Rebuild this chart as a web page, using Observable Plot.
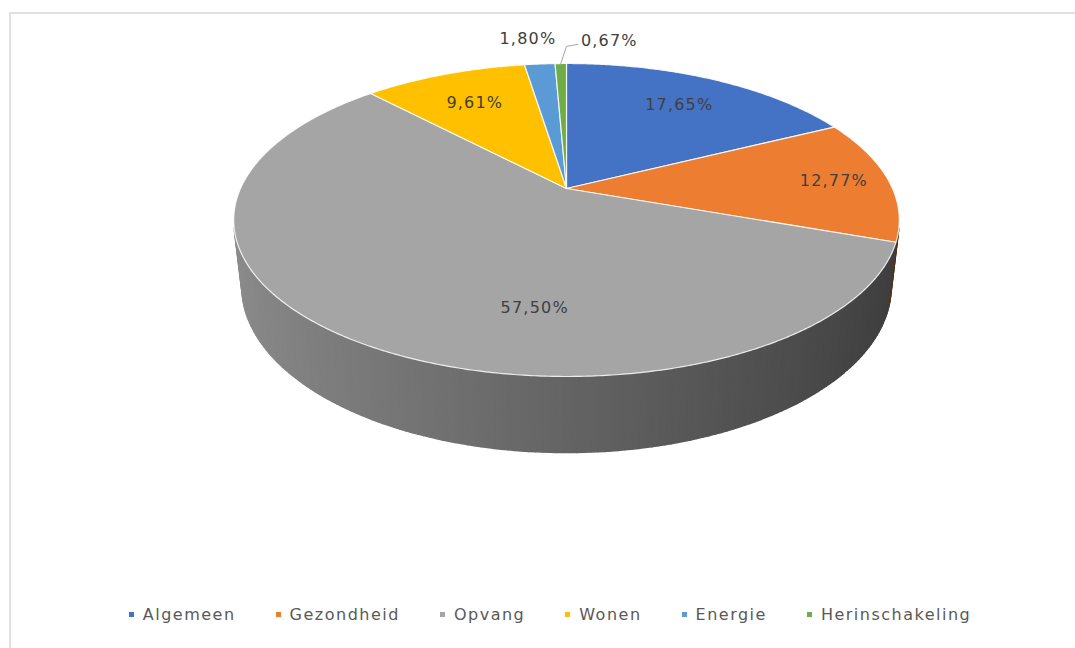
<!DOCTYPE html>
<html>
<head>
<meta charset="utf-8">
<script src="https://cdn.jsdelivr.net/npm/d3@7"></script>
<script src="https://cdn.jsdelivr.net/npm/@observablehq/plot@0.6"></script>
<style>
  html, body { margin: 0; padding: 0; background: #fff; overflow: hidden; width: 1075px; height: 648px; }
  #frame { position: absolute; left: 9px; top: 12px; width: 1100px; height: 700px; border: 2px solid #e0e0e0; box-sizing: border-box; }
  #chart { position: absolute; left: 0; top: 0; }
  #chart text { letter-spacing: 1.2px; }
  #legend { position: absolute; left: 0; top: 605px; width: 1100px; display: flex; justify-content: center; gap: 40px;
            font-family: "DejaVu Sans", sans-serif; font-size: 16px; color: #595959; letter-spacing: 1.5px; }
  #legend .item { display: flex; align-items: center; white-space: nowrap; }
  #legend .sw { width: 5px; height: 5px; margin-right: 9px; display: inline-block; }
</style>
</head>
<body>
<div id="frame"></div>
<div id="chart"></div>
<div id="legend"></div>
<script>
// ---- data ----
const categories = ["Algemeen", "Gezondheid", "Opvang", "Wonen", "Energie", "Herinschakeling"];
const shares = [17.65, 12.77, 57.50, 9.61, 1.80, 0.67];
const colors = ["#4472c4", "#ed7d31", "#a5a5a5", "#ffc000", "#5b9bd5", "#70ad47"];
const fmt = v => v.toFixed(2).replace(".", ",") + "%";

// ---- 3D pie geometry (perspective view of a disc) ----
const sinPhi = 0.4606, cosPhi = Math.sqrt(1 - sinPhi * sinPhi);
const DIST = 4.41;      // camera distance in radius units
const THICK = 0.232;    // disc thickness in radius units
function proj(aDeg, r, z) {
  const a = aDeg * Math.PI / 180;
  const x = r * Math.sin(a), y = r * Math.cos(a);
  const yc = y * sinPhi + z * cosPhi;
  const d = 1 + (y * cosPhi - z * sinPhi) / DIST;
  return [x / d, yc / d];
}

const total = d3.sum(shares);
let acc = 0;
const slices = categories.map((c, i) => {
  const a0 = acc / total * 360; acc += shares[i];
  const a1 = acc / total * 360;
  return {category: c, share: shares[i], a0, a1, mid: (a0 + a1) / 2, color: colors[i], label: fmt(shares[i])};
});

// top faces
const topRows = [];
slices.forEach((s, i) => {
  const pts = [[0, 0]];
  const n = Math.max(2, Math.ceil((s.a1 - s.a0) / 0.5));
  for (let k = 0; k <= n; k++) pts.push(proj(s.a0 + (s.a1 - s.a0) * k / n, 1, 0));
  pts.push([0, 0]);
  pts.forEach(([u, v]) => topRows.push({key: "t" + i, u, v, fill: s.color}));
});

// outer wall (visible part), shaded darker towards the right
const wallRows = [];
const visLimit = -1 / (DIST * cosPhi);
slices.forEach((s, i) => {
  const n = Math.max(1, Math.ceil((s.a1 - s.a0) / 1));
  for (let k = 0; k < n; k++) {
    const e0 = s.a0 + (s.a1 - s.a0) * k / n, e1 = s.a0 + (s.a1 - s.a0) * (k + 1) / n;
    const m = (e0 + e1) / 2;
    if (Math.cos(m * Math.PI / 180) >= visLimit) continue;
    const p = [proj(e0, 1, 0), proj(e1, 1, 0), proj(e1, 1, -THICK), proj(e0, 1, -THICK), proj(e0, 1, 0)];
    const um = Math.sin(m * Math.PI / 180);
    const f = 0.605 - 0.245 * um;
    const col = d3.interpolateRgb("#000000", s.color)(f);
    p.forEach(([u, v]) => wallRows.push({key: "w" + i + "_" + k, u, v, fill: col}));
  }
});

// labels
const labelTweak = {Opvang: {angle: 187, r: 0.69}, Gezondheid: {r: 0.83}, Algemeen: {r: 0.74}};
const inLabels = [], outLabels = [], leaderLabels = [], leaderRows = [];
slices.forEach((s, i) => {
  if (s.share >= 5) {
    const t = labelTweak[s.category] || {};
    const [u, v] = proj(t.angle ?? s.mid, t.r ?? 0.72, 0);
    inLabels.push({u, v, label: s.label});
  } else if (s.share >= 1) {
    const [u, v] = proj(s.mid, 1.25, 0);
    outLabels.push({u: u - 0.02, v, label: s.label});
  } else {
    const [u0, v0] = proj(s.mid, 1.0, 0);
    const [u1, v1] = proj(s.mid, 1.17, 0);
    const p1 = [u1 + 0.02, v1], p2 = [u1 + 0.055, v1 + 0.006];
    [[u0, v0], p1, p2].forEach(([u, v]) => leaderRows.push({key: "l" + i, u, v}));
    leaderLabels.push({u: p2[0], v: p2[1], label: s.label});
  }
});

// ---- plot ----
const W = 1075, H = 590, K = 326, CX = 566, CY = 188;
const font = "DejaVu Sans, sans-serif";
const chart = Plot.plot({
  width: W, height: H, margin: 0,
  x: {domain: [-CX / K, (W - CX) / K], range: [0, W], axis: null},
  y: {domain: [(CY - H) / K, CY / K], range: [H, 0], axis: null},
  color: {type: "identity"},
  marks: [
    Plot.line(wallRows, {x: "u", y: "v", z: "key", fill: "fill", stroke: "fill", strokeWidth: 1.5, curve: "linear"}),
    Plot.line(topRows, {x: "u", y: "v", z: "key", fill: "fill", stroke: "#ffffff", strokeWidth: 1.2, strokeOpacity: 0.85, strokeLinejoin: "round", curve: "linear"}),
    Plot.line(leaderRows, {x: "u", y: "v", z: "key", stroke: "#a6a6a6", strokeWidth: 1, curve: "linear"}),
    Plot.text(inLabels, {x: "u", y: "v", text: "label", fill: "#404040", fontSize: 16, fontFamily: font}),
    Plot.text(outLabels, {x: "u", y: "v", text: "label", fill: "#404040", fontSize: 16, fontFamily: font}),
    Plot.text(leaderLabels, {x: "u", y: "v", text: "label", fill: "#404040", fontSize: 16, fontFamily: font, textAnchor: "start", dx: 3, dy: -3})
  ]
});
document.getElementById("chart").appendChild(chart);

// legend
const legend = document.getElementById("legend");
categories.forEach((c, i) => {
  const it = document.createElement("span"); it.className = "item";
  const sw = document.createElement("span"); sw.className = "sw"; sw.style.background = colors[i];
  it.appendChild(sw); it.appendChild(document.createTextNode(c));
  legend.appendChild(it);
});
</script>
</body>
</html>
